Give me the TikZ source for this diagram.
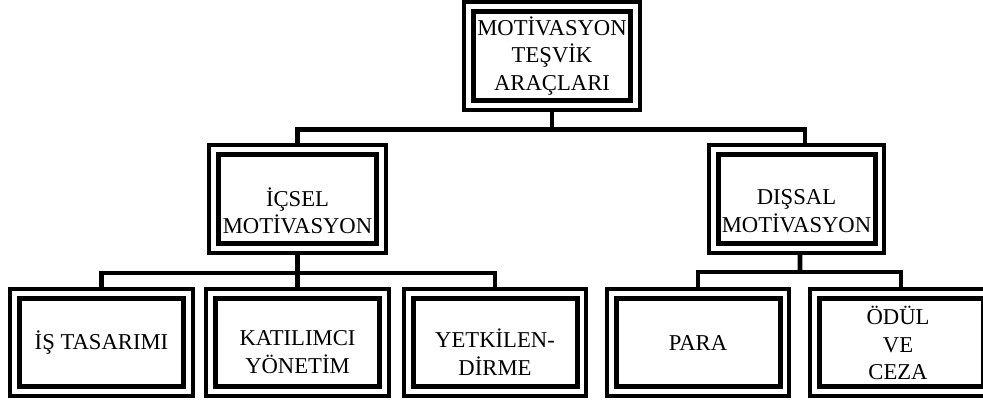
\documentclass[tikz,border=0pt]{standalone}
\usepackage{fontspec}
\setmainfont{Liberation Serif}
\usetikzlibrary{fit}
\begin{document}
\begin{tikzpicture}[x=0.75pt,y=-0.75pt,
  inbox/.style={draw, line width=3.75pt, inner sep=0pt, outer sep=0pt},
  outbox/.style={draw, line width=3pt, inner sep=7.1pt, outer sep=0pt},
  conn/.style={draw, line width=3.6pt},
  lbl/.style={align=center, inner sep=0pt, font=\fontsize{17pt}{20.5pt}\selectfont}]
\useasboundingbox (0,0) rectangle (983,400);

% top box
\node[inbox, minimum width=117.75pt, minimum height=66.75pt] (top-in) at (552,56) {};
\node[outbox, fit=(top-in)] (top) {};
\node[lbl] (top-t) at (552,56) {MOTİVASYON\\TEŞVİK\\ARAÇLARI};

% second level
\node[inbox, minimum width=118.5pt, minimum height=66.75pt] (ml-in) at (297.5,199) {};
\node[outbox, fit=(ml-in)] (ml) {};
\node[lbl] (ml-t) at (297.5,211) {İÇSEL\\MOTİVASYON};

\node[inbox, minimum width=117.75pt, minimum height=66.75pt] (mr-in) at (796.5,199) {};
\node[outbox, fit=(mr-in)] (mr) {};
\node[lbl] (mr-t) at (796.5,211) {DIŞSAL\\MOTİVASYON};

% third level
\foreach \n/\x in {b1/101.5, b2/297.5, b3/495, b4/698, b5/901} {
  \node[inbox, minimum width=123pt, minimum height=66pt] (\n-in) at (\x,342.5) {};
  \node[outbox, fit=(\n-in)] (\n) {};
}
\node[lbl] (b1-t) at (101.5,343) {İŞ TASARIMI};
\node[lbl] (b2-t) at (297.5,352) {KATILIMCI\\YÖNETİM};
\node[lbl] (b3-t) at (495,352) {YETKİLEN-\\DİRME};
\node[lbl] (b4-t) at (698,343) {PARA};
\node[lbl] (b5-t) at (898,343) {ÖDÜL\hspace{4pt}\\VE\\CEZA};

% connectors
\coordinate (j1) at (552,129.5);
\coordinate (j2) at (297.5,273);
\coordinate (j3) at (800,272);
\draw[conn] (top.south) -- (j1);
\draw[conn] (ml.north) |- (j1) -| ([xshift=6.4pt]mr.north);
\draw[conn] (ml.south) -- (j2);
\draw[conn] (b1.north) |- (j2) -| (b3.north);
\draw[conn] (j2) -- (b2.north);
\draw[conn] ([xshift=2.6pt]mr.south) -- (j3);
\draw[conn] (b4.north) |- (j3) -| (b5.north);
\end{tikzpicture}
\end{document}
